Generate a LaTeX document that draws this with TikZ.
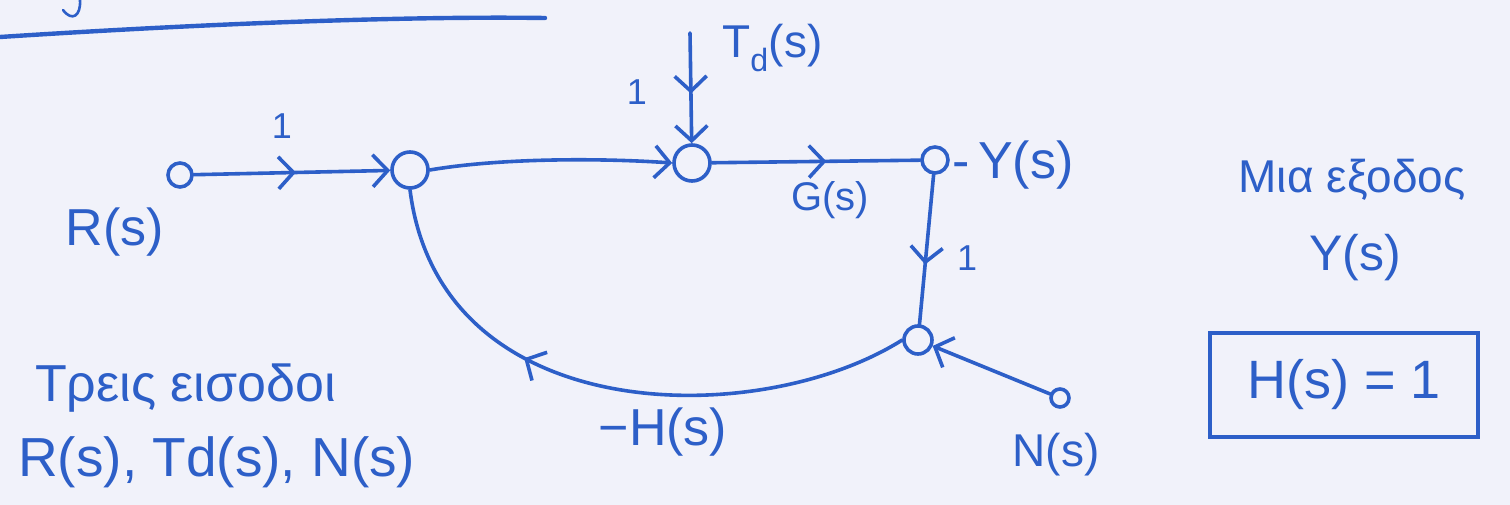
\documentclass[tikz,border=0pt]{standalone}
\usepackage{fontspec}
\setmainfont{Liberation Sans}
\usetikzlibrary{arrows.meta,decorations.markings}
\definecolor{ink}{RGB}{45,95,200}
\definecolor{paper}{RGB}{241,242,250}
\tikzset{
  pen/.style={draw=ink, line width=3.6pt, line cap=round, line join=round},
  junction/.style={circle, pen, minimum size=#1, inner sep=0pt},
  headend/.style={-{Straight Barb[length=15pt,width=32pt,line width=3.6pt]}},
  midtip/.style={postaction={decorate}, decoration={markings,
      mark=at position #1 with {\arrow{Straight Barb[length=15pt,width=32pt,line width=3.6pt]}}}},
  lbl/.style={text=ink, inner sep=0pt, font=\fontsize{#1}{#1}\selectfont},
}
\begin{document}
\begin{tikzpicture}[x=1pt,y=-1pt]
\fill[paper] (0,0) rectangle (1510,505);
\useasboundingbox (0,0) rectangle (1510,505);

% rule at the top of the sheet
\draw[pen, line width=4.4pt] (0,37) .. controls (200,24) and (400,16) .. (545,18);
\draw[pen, line width=2.6pt] (80,0) .. controls (81,16) and (72,22) .. (63,10);

% signal-flow graph nodes
\node[junction=24pt] (R) at (180,175) {};
\node[junction=36pt] (A) at (410,170) {};
\node[junction=36pt] (B) at (692,163) {};
\node[junction=26pt] (C) at (935,160) {};
\node[junction=28pt] (D) at (918,340) {};
\node[junction=18pt] (N) at (1060,398) {};
\coordinate (Td) at (690,33);

% branches
\draw[pen, headend, midtip=0.52] (R) -- (A);
\draw[pen, headend] (A.east) .. controls (500,158) and (600,158) .. (B.west);
\draw[pen, headend, midtip=0.55] (Td) -- (B);
\draw[pen, midtip=0.55] (B) -- (C);
\draw[pen, midtip=0.6] (C) -- (D);
\draw[pen, headend] (N) -- (D);
\draw[pen, midtip=0.65] (D.west) .. controls (760,430) and (440,430) .. (A.south);

% branch and node labels
\node[lbl=52] at (115,232) {R(s)};
\node[lbl=36] at (282,126) {1};
\node[lbl=46, anchor=west] at (722,48) {T\textsubscript{d}(s)};
\node[lbl=36] at (637,92) {1};
\node[lbl=40] at (830,200) {G(s)};
\node[lbl=52, anchor=west] at (952,165) {-\,Y(s)};
\node[lbl=36] at (967,258) {1};
\node[lbl=52] at (663,432) {−H(s)};
\node[lbl=46] at (1056,455) {N(s)};

% notes
\node[lbl=52, anchor=west] at (35,388) {Τρεις εισοδοι};
\node[lbl=55, anchor=west] at (18,462) {R(s), Td(s), N(s)};
\node[lbl=46] at (1352,180) {Μια εξοδος};
\node[lbl=50] at (1355,258) {Y(s)};
\node[lbl=54, draw=ink, line width=4.6pt, minimum width=268pt, minimum height=104pt] (Hbox) at (1344,385) {H(s) = 1};
\end{tikzpicture}
\end{document}
